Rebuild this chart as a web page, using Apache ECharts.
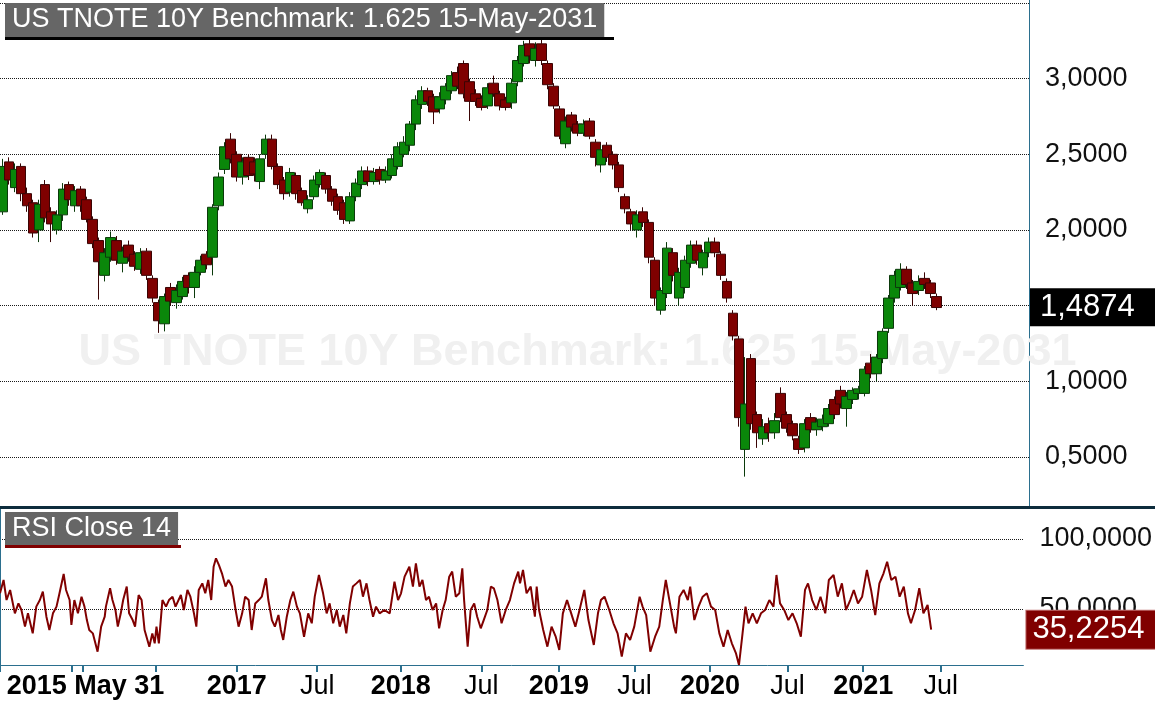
<!DOCTYPE html>
<html>
<head>
<meta charset="utf-8">
<script src="https://cdn.jsdelivr.net/npm/echarts@6/dist/echarts.min.js"></script>
<style>
html,body{margin:0;padding:0;background:#ffffff;}
#chart{width:1155px;height:708px;}
</style>
</head>
<body>
<div id="chart"></div>
<script>
// ---- Price candles (weekly) ----
const openP = [2.12,2.45,2.28,2.42,2.24,2.18,2.00,2.30,2.12,2.00,
2.10,2.30,2.16,2.27,2.20,2.07,1.93,1.70,1.82,1.93,
1.78,1.90,1.84,1.74,1.86,1.68,1.52,1.38,1.62,1.52,
1.56,1.70,1.62,1.72,1.84,1.82,2.16,2.40,2.60,2.50,
2.35,2.48,2.45,2.32,2.50,2.60,2.42,2.33,2.25,2.36,
2.26,2.14,2.22,2.30,2.36,2.27,2.22,2.18,2.06,2.22,
2.30,2.39,2.32,2.40,2.33,2.36,2.42,2.50,2.56,2.70,
2.83,2.92,2.88,2.80,2.86,2.92,3.04,3.10,2.98,2.90,
2.87,2.82,2.97,2.90,2.86,2.84,2.98,3.10,3.23,3.12,
3.23,3.10,2.95,2.80,2.57,2.76,2.70,2.64,2.72,2.58,
2.43,2.56,2.50,2.43,2.22,2.12,2.00,2.12,2.05,1.80,
1.47,1.58,1.85,1.55,1.62,1.78,1.90,1.75,1.85,1.92,
1.84,1.66,1.45,1.28,0.55,1.15,0.78,0.62,0.72,0.66,
0.92,0.78,0.72,0.62,0.56,0.76,0.68,0.70,0.72,0.88,
0.94,0.82,0.88,0.92,0.92,1.12,1.05,1.15,1.35,1.55,
1.62,1.74,1.65,1.60,1.68,1.65,1.56];
const closeP = [2.42,2.33,2.40,2.24,2.16,1.98,2.17,2.08,2.04,2.10,
2.27,2.20,2.26,2.16,2.07,1.91,1.79,1.85,1.95,1.80,
1.86,1.82,1.76,1.85,1.70,1.55,1.40,1.56,1.53,1.60,
1.66,1.62,1.72,1.80,1.77,2.15,2.35,2.55,2.47,2.35,
2.45,2.36,2.37,2.47,2.60,2.42,2.30,2.24,2.38,2.24,
2.18,2.20,2.33,2.38,2.27,2.19,2.13,2.07,2.22,2.31,
2.39,2.32,2.38,2.33,2.39,2.47,2.55,2.58,2.70,2.86,
2.92,2.85,2.78,2.88,2.95,3.02,2.95,2.90,2.85,2.85,
2.81,2.94,2.90,2.82,2.81,2.97,3.12,3.22,3.15,3.20,
3.12,2.96,2.82,2.62,2.72,2.68,2.64,2.70,2.62,2.48,
2.53,2.48,2.43,2.28,2.14,2.04,2.10,2.05,1.82,1.55,
1.60,1.88,1.70,1.72,1.80,1.90,1.80,1.85,1.92,1.85,
1.70,1.55,1.30,0.76,0.85,0.72,0.66,0.70,0.66,0.74,
0.76,0.69,0.64,0.55,0.72,0.68,0.73,0.75,0.82,0.78,
0.85,0.90,0.94,0.95,1.08,1.05,1.16,1.33,1.55,1.70,
1.74,1.64,1.58,1.66,1.64,1.58,1.4874];
const lowP = [2.10,2.30,2.25,2.19,2.12,1.95,1.92,2.05,1.92,1.97,
2.06,2.16,2.12,2.12,2.05,1.88,1.54,1.66,1.79,1.77,
1.72,1.79,1.73,1.71,1.67,1.52,1.32,1.33,1.50,1.48,
1.54,1.58,1.55,1.70,1.74,1.70,2.13,2.37,2.44,2.32,
2.30,2.33,2.32,2.27,2.47,2.40,2.27,2.20,2.22,2.20,
2.16,2.11,2.20,2.28,2.24,2.16,2.10,2.04,2.04,2.19,
2.27,2.29,2.30,2.30,2.31,2.34,2.40,2.48,2.52,2.66,
2.80,2.82,2.70,2.77,2.83,2.90,2.93,2.87,2.72,2.82,
2.79,2.80,2.88,2.79,2.79,2.80,2.95,3.08,3.10,3.08,
3.09,2.93,2.80,2.60,2.54,2.65,2.62,2.62,2.60,2.42,
2.38,2.45,2.40,2.25,2.11,2.00,1.95,2.02,1.78,1.50,
1.44,1.55,1.66,1.50,1.58,1.75,1.77,1.70,1.82,1.82,
1.67,1.52,1.27,0.70,0.37,0.68,0.56,0.58,0.60,0.62,
0.73,0.66,0.61,0.52,0.53,0.66,0.64,0.67,0.70,0.75,
0.82,0.70,0.85,0.88,0.90,1.02,1.00,1.12,1.32,1.52,
1.60,1.61,1.50,1.57,1.61,1.55,1.47];
const highP = [2.47,2.48,2.44,2.44,2.28,2.20,2.20,2.33,2.15,2.13,
2.31,2.32,2.29,2.29,2.22,2.09,1.95,1.88,1.99,1.96,
1.89,1.93,1.86,1.88,1.88,1.70,1.54,1.58,1.65,1.64,
1.69,1.72,1.76,1.83,1.86,2.17,2.38,2.58,2.64,2.52,
2.48,2.50,2.48,2.50,2.63,2.63,2.44,2.35,2.41,2.38,
2.28,2.23,2.36,2.40,2.38,2.29,2.24,2.20,2.25,2.34,
2.42,2.42,2.41,2.42,2.42,2.50,2.58,2.62,2.72,2.89,
2.95,2.94,2.90,2.91,2.97,3.05,3.08,3.12,3.00,2.93,
2.89,2.97,3.02,2.92,2.88,3.00,3.15,3.25,3.26,3.24,
3.26,3.12,2.97,2.82,2.75,2.78,2.72,2.73,2.74,2.60,
2.56,2.58,2.52,2.45,2.24,2.14,2.13,2.15,2.07,1.82,
1.62,1.92,1.88,1.75,1.83,1.93,1.93,1.87,1.95,1.95,
1.86,1.68,1.47,1.30,1.16,1.18,0.80,0.75,0.76,0.79,
0.96,0.80,0.74,0.64,0.75,0.79,0.76,0.78,0.85,0.90,
0.97,0.93,0.96,0.97,1.10,1.18,1.18,1.35,1.57,1.73,
1.78,1.76,1.67,1.70,1.72,1.67,1.58];

// ---- RSI Close 14: positions (in week slots) and values ----
const rsiT = [0,0.6,1.1,1.7,2.5,3.1,3.6,4.2,4.7,5.5,6.1,6.7,7.2,7.8,8.3,8.9,9.5,10.0,10.7,11.1,
11.7,12.0,12.5,13.1,13.7,14.2,14.6,15.0,15.6,16.4,17.0,17.6,17.8,18.5,18.9,19.4,19.8,20.3,20.7,21.3,
21.7,22.3,22.7,23.3,23.8,24.3,25.1,25.6,26.0,26.3,26.7,27.3,27.9,28.4,29.0,29.5,30.4,30.9,31.5,32.0,
32.6,33.0,33.4,34.0,34.5,35.0,35.5,35.9,36.3,36.8,37.3,37.9,38.4,39.0,39.6,40.1,40.7,41.2,41.8,42.3,
42.9,43.5,44.0,44.7,45.1,45.7,46.2,46.8,47.2,47.6,48.2,48.8,49.3,49.9,50.4,51.1,51.8,52.4,52.9,53.6,
54.3,54.9,55.4,56.0,56.6,57.1,57.7,58.2,58.8,59.3,59.9,60.5,61.0,61.6,62.1,62.7,63.2,63.8,64.6,65.5,
66.3,66.9,67.4,68.0,68.8,69.4,69.9,70.5,71.0,71.6,72.1,72.7,73.3,73.8,74.4,74.9,75.5,76.0,76.6,77.2,
77.7,78.0,78.6,79.1,79.7,80.2,80.8,81.3,81.9,82.5,83.0,83.6,
84.3,85.0,85.7,86.4,87.1,87.4,87.9,88.5,89.2,89.9,90.2,90.6,91.3,92.0,92.7,93.4,94.0,94.6,95.3,96.0,
96.7,97.4,98.2,98.9,99.8,100.5,101.0,101.6,102.4,103.1,103.8,104.5,105.2,105.9,106.6,107.5,108.0,108.6,109.3,110.1,
110.8,111.4,111.9,112.6,113.3,113.6,114.2,114.9,115.6,116.0,116.7,117.4,118.1,118.8,119.5,120.2,120.9,121.6,122.3,123.0,
123.7,124.2,124.8,125.3,125.8,126.5,127.2,127.9,128.6,129.3,130.0,130.5,131.1,131.8,132.5,133.2,133.9,134.6,135.3,135.8,
136.5,137.2,137.9,138.7,139.3,140.1,140.8,141.5,142.2,142.9,143.5,144.2,144.9,145.7,146.4,147.1,147.8,148.5,149.1,149.8,
150.5,151.2,151.9,152.6,153.1,153.8,154.5,155.2,155.9,156.5];
const rsiV = [61.2,70.7,56.4,63.6,46.9,54.0,49.3,37.4,46.9,32.6,51.7,56.4,62.4,44.5,35.0,46.9,51.7,61.2,75.0,63.6,
56.4,38.6,56.4,46.9,58.8,51.7,42.1,35.0,32.6,19.5,37.4,44.5,51.7,64.8,56.4,49.3,37.4,46.9,56.4,66.0,
46.9,42.1,37.4,60.0,56.4,35.0,23.1,32.6,25.5,37.4,25.5,56.4,51.7,56.4,58.8,51.7,60.0,49.3,63.6,58.8,
46.9,37.4,63.6,68.3,61.2,70.7,56.4,80.2,86.2,81.4,75.5,66.0,70.7,66.0,49.3,37.4,46.9,58.8,56.4,35.0,
54.0,56.4,58.8,71.9,56.4,42.1,37.4,45.7,35.0,27.9,44.5,56.4,62.4,51.7,46.9,30.2,46.9,39.8,58.8,74.3,
61.2,46.9,54.0,39.8,49.3,37.4,45.7,32.6,54.0,66.0,68.3,70.7,58.8,68.3,56.4,44.5,51.7,46.9,49.3,46.9,
69.5,56.4,61.2,73.1,80.2,66.0,82.6,66.0,70.7,56.4,58.8,49.3,54.0,36.2,49.3,56.4,73.1,76.7,58.8,61.2,
79.0,56.4,23.1,49.3,54.0,44.5,36.2,42.1,49.3,66.0,64.8,56.4,
39.8,49.3,56.4,68.3,76.7,68.3,77.9,61.2,66.0,44.5,66.0,49.3,35.0,23.1,37.4,30.2,20.7,46.9,56.4,46.9,
37.4,49.3,63.6,42.1,24.3,46.9,56.4,58.8,49.3,39.8,32.6,16.0,32.6,27.9,37.4,58.8,51.7,45.7,19.5,30.2,
37.4,56.4,70.7,54.0,37.4,32.6,58.8,63.6,56.4,66.0,42.1,51.7,58.8,61.2,51.7,49.3,32.6,23.1,35.0,25.5,
18.3,10.0,32.6,51.7,39.8,46.9,39.8,46.9,49.3,56.4,51.7,74.3,54.0,49.3,42.1,46.9,39.8,30.2,63.6,68.3,
56.4,49.3,58.8,46.9,70.7,74.3,58.8,68.3,49.3,56.4,63.6,54.0,58.8,77.9,63.6,45.7,68.3,75.5,83.8,70.7,
73.1,58.8,66.0,46.9,39.8,49.3,64.8,46.9,52.9,35.2254];

// ---- axis ticks / labels ----
const priceGrid = [0.5,1.0,1.5,2.0,2.5,3.0,3.5];
const priceLabels = [0.5,1.0,1.5,2.0,2.5,3.0];
const rsiGrid = [50,100];
const timeTicks = [0,12.03,13.87,26.24,39.78,53.32,67.36,80.9,93.93,106.63,119.34,132.37,145.08,158.11];
const timeLabelPos = [6.18,20.06,39.78,53.32,67.36,80.9,93.93,106.63,119.34,132.37,145.08,158.11];
const timeLabelText = ['2015','May 31','2017','Jul','2018','Jul','2019','Jul','2020','Jul','2021','Jul'];
const nSlots = 172;
const TITLE = 'US TNOTE 10Y Benchmark: 1.625 15-May-2031';
const RSI_TITLE = 'RSI Close 14';

const FONT = "'Liberation Sans', Arial, Helvetica, sans-serif";
const fmt4 = v => Number(v).toFixed(4).replace('.', ',');

const candles = openP.map((o, i) => [o, closeP[i], lowP[i], highP[i]]);
const rsiData = rsiT.map((t, i) => [t, rsiV[i]]);
const slots = Array.from({length: nSlots}, (_, i) => String(i));
const lastClose = closeP[closeP.length - 1];
const lastRsi = rsiV[rsiV.length - 1];

const chart = echarts.init(document.getElementById('chart'), null, {renderer: 'canvas'});
const axisColor = '#2b6f8e';

chart.setOption({
  animation: false,
  backgroundColor: '#ffffff',
  textStyle: {fontFamily: FONT},
  title: [
    {text: TITLE, left: 'center', top: 325, z: 0, zlevel: 0,
     textStyle: {fontSize: 45, fontWeight: 'bold', color: '#f0f0f0', fontFamily: FONT}},
    {text: TITLE, left: 5, top: 3, padding: [3, 7, 4, 7], backgroundColor: '#666666',
     textStyle: {fontSize: 27, fontWeight: 'normal', color: '#ffffff', fontFamily: FONT}},
    {text: RSI_TITLE, left: 5, top: 512, padding: [3, 7, 3, 7], backgroundColor: '#666666',
     textStyle: {fontSize: 27, fontWeight: 'normal', color: '#ffffff', fontFamily: FONT}}
  ],
  grid: [
    {left: 0, right: 126, top: 0, height: 507},
    {left: 0, right: 126, top: 509, height: 156}
  ],
  xAxis: [
    {type: 'category', gridIndex: 0, data: slots, boundaryGap: true, show: false},
    {type: 'value', gridIndex: 1, min: 0, max: nSlots,
     axisLine: {show: true, lineStyle: {color: axisColor, width: 1}},
     axisTick: {show: true, customValues: timeTicks, length: 7, lineStyle: {color: axisColor, width: 2}},
     axisLabel: {
       customValues: timeLabelPos, margin: 8,
       formatter: function (v) {
         let best = 0, d = 1e9;
         timeLabelPos.forEach((p, i) => { if (Math.abs(p - v) < d) { d = Math.abs(p - v); best = i; } });
         const t = timeLabelText[best];
         return t === 'Jul' ? '{n|' + t + '}' : '{b|' + t + '}';
       },
       rich: {
         b: {fontSize: 27, fontWeight: 'bold', color: '#000000', fontFamily: FONT},
         n: {fontSize: 27, fontWeight: 'normal', color: '#000000', fontFamily: FONT}
       }
     },
     splitLine: {show: false}}
  ],
  yAxis: [
    {type: 'value', gridIndex: 0, position: 'right', min: 0.1693, max: 3.5198,
     axisLine: {show: true, lineStyle: {color: axisColor, width: 1}},
     axisTick: {show: false, customValues: priceGrid},
     axisLabel: {customValues: priceLabels, formatter: fmt4, fontSize: 27, color: '#111111', margin: 16, fontFamily: FONT},
     splitLine: {show: true, lineStyle: {type: 'dotted', color: '#1a1a1a', width: 1}}},
    {type: 'value', gridIndex: 1, position: 'right', min: 10, max: 121.43,
     axisLine: {show: true, lineStyle: {color: axisColor, width: 1}},
     axisTick: {show: false, customValues: rsiGrid},
     axisLabel: {customValues: rsiGrid, formatter: fmt4, fontSize: 27, color: '#111111', margin: 16, fontFamily: FONT},
     splitLine: {show: true, lineStyle: {type: 'dotted', color: '#1a1a1a', width: 1}}}
  ],
  series: [
    {type: 'candlestick', xAxisIndex: 0, yAxisIndex: 0, data: candles, barWidth: 10, clip: false,
     itemStyle: {color: '#0a870a', color0: '#7f0000', borderColor: '#0b3a0b', borderColor0: '#3a0404', borderWidth: 1},
     markLine: {
       silent: true, symbol: 'none', animation: false,
       lineStyle: {color: 'rgba(0,0,0,0)', width: 0, opacity: 1},
       data: [{yAxis: lastClose}],
       label: {show: true, position: 'end', distance: 1, formatter: () => fmt4(lastClose), opacity: 1,
               backgroundColor: '#000000', color: '#ffffff', fontSize: 31, fontFamily: FONT,
               padding: [4, 30, 3, 10]}
     }},
    {type: 'line', xAxisIndex: 1, yAxisIndex: 1, data: rsiData, symbol: 'none', showSymbol: false, clip: false,
     lineStyle: {color: '#800000', width: 2}, z: 3,
     markLine: {
       silent: true, symbol: 'none', animation: false,
       lineStyle: {color: 'rgba(0,0,0,0)', width: 0, opacity: 1},
       data: [{yAxis: lastRsi}],
       label: {show: true, position: 'end', distance: 3, formatter: () => fmt4(lastRsi), opacity: 1,
               backgroundColor: '#800000', borderColor: '#c07070', borderWidth: 1,
               color: '#ffffff', fontSize: 31, fontFamily: FONT, padding: [4, 20, 3, 6]}
     }}
  ],
  graphic: [
    {type: 'rect', left: 0, top: 506, shape: {width: 1155, height: 3}, style: {fill: '#0d2c3c'}, z: 10},
    {type: 'rect', left: 5, top: 37, shape: {width: 609, height: 3}, style: {fill: '#000000'}, z: 10},
    {type: 'rect', left: 5, top: 545, shape: {width: 176, height: 3}, style: {fill: '#800000'}, z: 10}
  ]
});
</script>
</body>
</html>
